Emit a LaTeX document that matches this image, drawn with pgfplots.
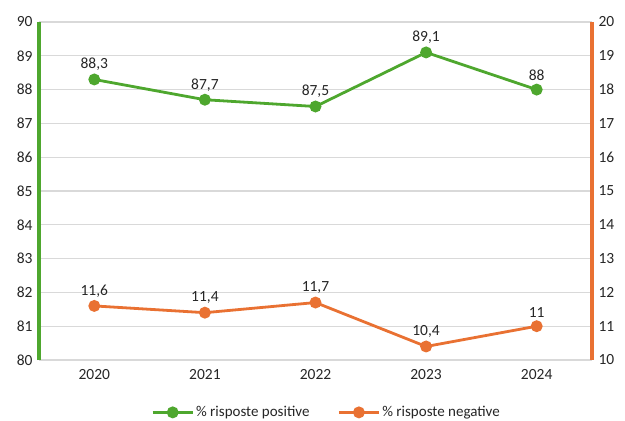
\documentclass[border=0pt]{standalone}
\usepackage{pgfplots}
\pgfplotsset{compat=1.18}
\usepackage{fontspec}
\setmainfont{Carlito}
\definecolor{cgreen}{HTML}{4EA72E}
\definecolor{corange}{HTML}{E97132}
\definecolor{cgrid}{HTML}{D9D9D9}
\pgfplotsset{
  common/.style={
    scale only axis, width=553pt, height=338pt,
    xmin=-0.5, xmax=4.5,
    /pgf/number format/assume math mode=true,
    /pgf/number format/use comma,
    /pgf/number format/fixed,
    /pgf/number format/precision=1,
    tick style={draw=none},
    tick label style={font=\fontsize{15.5}{17}\selectfont, text=black!85},
    every node near coord/.append style={font=\fontsize{15.5}{17}\selectfont, text=black!85, anchor=south, yshift=4pt},
    nodes near coords,
  },
}
\begin{document}
\begin{tikzpicture}
\path[use as bounding box] (-39pt,-61pt) rectangle (586pt,360pt);
\begin{axis}[common,
  at={(0,0)}, anchor=south west,
  ymin=80, ymax=90, ytick={80,81,...,90},
  axis y line*=left, axis x line=none,
  every outer y axis line/.append style={draw=cgreen, line width=3.2pt, -},
  ymajorgrids=true, grid style={draw=cgrid, line width=1.2pt},
  yticklabel style={/pgf/number format/precision=0, xshift=-3pt},
  xtick=\empty,
]
\addplot[cgreen, line width=2.8pt, mark=*, mark size=4.5pt] coordinates {(0,88.3) (1,87.7) (2,87.5) (3,89.1) (4,88)};
\end{axis}
\begin{axis}[common,
  at={(0,0)}, anchor=south west,
  ymin=10, ymax=20, ytick={10,11,...,20},
  axis y line*=right, axis x line*=bottom,
  every outer x axis line/.append style={draw=none},
  every outer y axis line/.append style={draw=corange, line width=3.2pt, -},
  yticklabel style={/pgf/number format/precision=0, xshift=3pt},
  xtick={0,1,2,3,4}, xticklabels={2020,2021,2022,2023,2024},
  xticklabel style={yshift=-6pt},
  legend style={at={(0.52,-0.155)}, anchor=center, draw=none, legend columns=2,
    font=\fontsize{15}{17}\selectfont, text=black!85, inner sep=1pt,
    /tikz/every even column/.append style={column sep=26pt}},
  legend image code/.code={
    \draw[#1, mark=none] (0pt,0pt) -- (40pt,0pt);
    \draw[#1, only marks] plot coordinates {(20pt,0pt)};
  },
]
\addlegendimage{cgreen, line width=2.8pt, mark=*, mark size=4.5pt}
\addlegendentry{\% risposte positive}
\addplot[corange, line width=2.8pt, mark=*, mark size=4.5pt] coordinates {(0,11.6) (1,11.4) (2,11.7) (3,10.4) (4,11)};
\addlegendentry{\% risposte negative}
\end{axis}
\end{tikzpicture}
\end{document}
